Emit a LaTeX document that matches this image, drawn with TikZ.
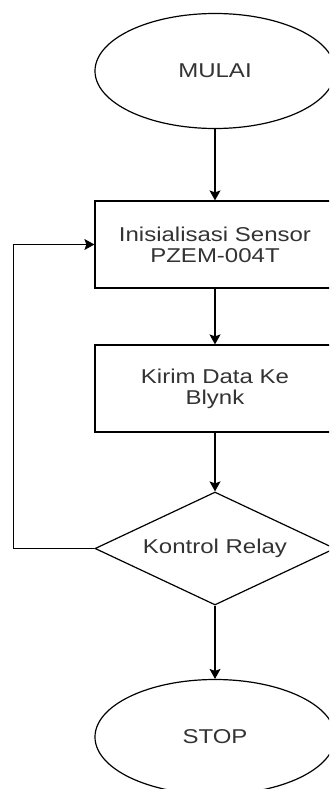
\documentclass[tikz,border=0pt]{standalone}
\usepackage{fontspec}
\setmainfont{Liberation Sans}[FakeStretch=1.2]
\usetikzlibrary{positioning, shapes.geometric, arrows.meta}

\tikzset{
  terminal/.style={ellipse, draw, line width=1.2pt, minimum width=240pt, minimum height=115pt, inner sep=0pt},
  process/.style={rectangle, draw, line width=1.2pt, minimum width=240pt, minimum height=87pt, align=center, inner sep=0pt},
  decision/.style={diamond, draw, line width=1.2pt, minimum width=240pt, minimum height=113pt, shape aspect=2.12, inner sep=0pt},
  flow/.style={line width=1.2pt, -{Stealth[length=10pt, width=11pt, inset=2pt]}}
}

\begin{document}
\begin{tikzpicture}[x=1pt, y=1pt, font=\fontsize{20}{21}\selectfont, text=black!80]
    \clip (0,0) rectangle (329,-789);
    \node[terminal] (mulai) at (215,-71) {MULAI};
    \node[process] (init) at (215,-244.5) {Inisialisasi Sensor\\PZEM-004T};
    \node[process] (kirim) at (215,-388.5) {Kirim Data Ke\\Blynk};
    \node[decision] (relay) at (215,-548.5) {Kontrol Relay};
    \node[terminal] (stop) at (215,-737) {STOP};
    \draw[flow] (mulai) -- (init);
    \draw[flow] (init) -- (kirim);
    \draw[flow] (kirim) -- (relay);
    \draw[flow] (relay) -- (stop);
    \draw[flow] (relay.west) -- ++(-81,0) |- (init.west);
\end{tikzpicture}
\end{document}
